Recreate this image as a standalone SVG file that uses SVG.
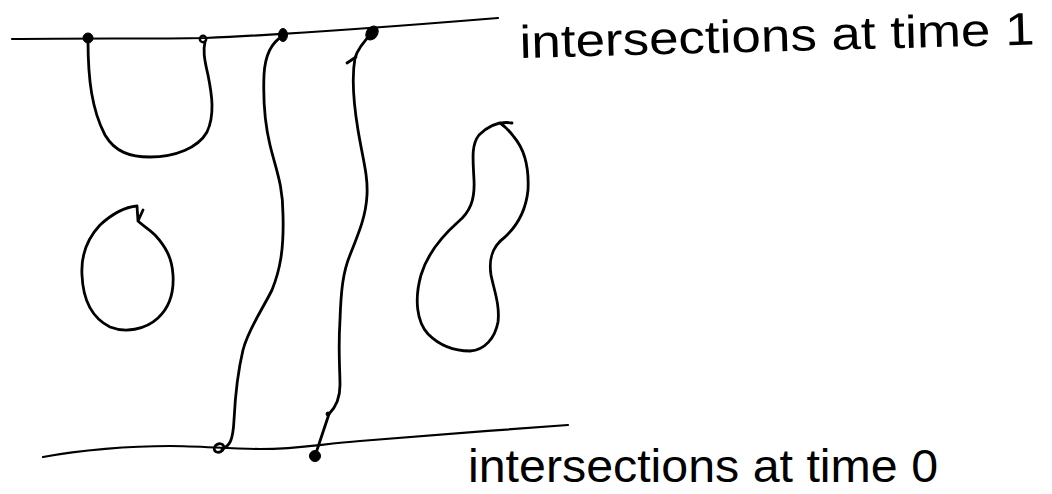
<svg xmlns="http://www.w3.org/2000/svg" width="1052" height="494" viewBox="0 0 1052 494">
  <style>
    .ln { fill: none; stroke: #000; stroke-width: 2.2; stroke-linecap: round; stroke-linejoin: round; }
    .cv { fill: none; stroke: #000; stroke-width: 2.8; stroke-linecap: round; stroke-linejoin: round; }
    .dot { fill: #000; stroke: #000; stroke-width: 1; }
    .lbl { font-family: "Liberation Sans", Arial, sans-serif; font-size: 46px; fill: #000; }
  </style>
  <rect width="1052" height="494" fill="#fff"/>

  <g id="time1-line">
    <path class="ln" d="M12,39 C80,38 150,39 205,38 C300,34 400,26 498,18"/>
  </g>
  <g id="time0-line">
    <path class="ln" d="M43,457 C80,450 130,446 170,446 C200,446 230,449 260,449 C300,449 320,444 360,441 C420,436 500,430 568,425"/>
  </g>

  <g id="loop-left">
    <path class="cv" d="M143,210 L138,221 L137,206 C125,207 112,214 100,225 C86,240 81,258 82,275 C83,300 92,318 110,327 C125,333 145,330 158,318 C170,307 174,292 173,275 C172,258 166,247 155,235 C148,228 142,225 138,221"/>
  </g>
  <g id="loop-right">
    <path class="cv" d="M512,123 C500,121 488,126 479,135 C471,145 473,160 474,180 C475,200 470,212 458,222 C440,238 427,255 421,275 C414,300 417,322 428,334 C440,346 455,351 470,351 C485,350 495,338 498,322 C500,305 494,290 491,275 C489,262 490,248 505,237 C518,225 526,210 528,190 C529,170 525,150 514,137 C508,129 503,125 500,123"/>
  </g>

  <g id="connectors">
    <path id="u-curve" class="cv" d="M88,40 C88,80 92,110 105,135 C115,152 130,157 150,157 C175,157 198,148 207,132 C215,115 212,95 208,75 C204,58 203,50 205,42"/>
    <path id="crossing-a" class="cv" d="M283,36 C272,42 265,55 264,75 C263,100 264,120 270,145 C276,170 283,185 283,215 C284,250 280,270 272,290 C262,310 248,330 243,350 C237,375 235,400 234,420 C233,440 230,446 222,449"/>
    <path id="crossing-b" class="cv" d="M373,32 C365,40 358,48 355,58 C352,75 353,100 358,130 C363,160 368,175 367,195 C366,215 360,230 350,255 C343,272 341,290 340,320 C338,350 340,370 340,385 C340,400 335,408 329,414 L317,450"/>
    <path class="cv" d="M347,63 L356,57"/>
  </g>

  <g id="dot-1"><circle class="dot" cx="88" cy="38" r="5"/></g>
  <g id="dot-2"><circle cx="203" cy="39" r="3.2" fill="none" stroke="#000" stroke-width="2.4"/></g>
  <g id="dot-3"><ellipse class="dot" cx="283" cy="35" rx="4.5" ry="6.5"/></g>
  <g id="dot-4"><ellipse class="dot" cx="372" cy="33" rx="5.5" ry="7.5" transform="rotate(35 372 33)"/></g>
  <g id="dot-5"><ellipse cx="219" cy="448" rx="5" ry="4" fill="none" stroke="#000" stroke-width="2.8" transform="rotate(-30 219 448)"/></g>
  <g id="dot-6"><circle class="dot" cx="315" cy="456" r="5.5"/></g>
  <g id="dot-7"><circle class="dot" cx="328" cy="414" r="2"/></g>

  <g id="label-time1">
    <text class="lbl" x="520" y="58" textLength="515" lengthAdjust="spacingAndGlyphs" transform="rotate(-1.5 520 58)">intersections at time 1</text>
  </g>
  <g id="label-time0">
    <text class="lbl" x="468" y="482" textLength="470" lengthAdjust="spacingAndGlyphs">intersections at time 0</text>
  </g>
</svg>
